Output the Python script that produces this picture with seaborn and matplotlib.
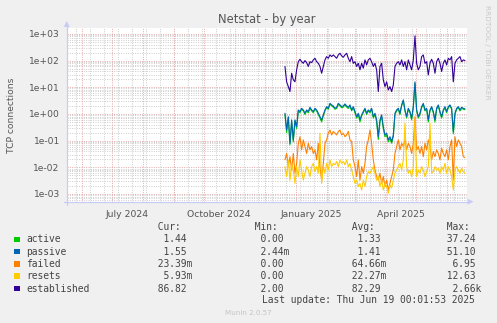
import matplotlib
matplotlib.use("Agg")
import matplotlib.pyplot as plt
import matplotlib.ticker as mticker
from matplotlib.lines import Line2D
from matplotlib.patches import Polygon, Rectangle
import seaborn as sns
import pandas as pd
import numpy as np

# ---------------- data ----------------
start = "2024-12-20 16:00"
n_points = 109
step = "40h"

series_names = ["active", "passive", "failed", "resets", "established"]
series_colors = ["#00CC00", "#0066B3", "#FF8000", "#FFCC00", "#330099"]

active = [0.95, 0.2, 0.7, 0.07, 0.5, 0.09, 0.55, 0.28, 1.3, 1.1,
          1.5, 1.3, 0.95, 1.3, 1.1, 1.6, 1.3, 1.1, 1.5, 1.3,
          0.95, 0.7, 0.5, 0.85, 1.3, 1.7, 1.5, 2.3, 2.0, 1.8,
          1.5, 1.6, 2.3, 2.0, 1.7, 1.8, 2.2, 1.8, 1.6, 2.0,
          1.3, 1.7, 1.1, 0.7, 0.95, 0.5, 0.85, 1.1, 1.5, 0.95,
          1.3, 1.1, 1.5, 0.7, 0.95, 0.5, 0.11, 0.5, 0.8, 0.28,
          0.14, 0.16, 0.09, 0.12, 0.08, 0.14, 0.95, 1.3, 1.5, 0.95,
          2.0, 3.1, 1.3, 0.7, 1.5, 1.1, 0.6, 1.7, 14, 1.3,
          0.7, 0.95, 1.7, 2.3, 1.3, 1.5, 0.5, 1.3, 1.7, 1.1,
          0.5, 1.5, 2.0, 1.1, 0.7, 1.3, 1.7, 1.1, 1.7, 2.0,
          1.5, 0.18, 0.95, 1.5, 1.7, 1.3, 1.6, 1.5, 1.44]

passive = [1.06, 0.25, 0.79, 0.079, 0.6, 0.106, 0.6, 0.33, 1.41, 1.23,
           1.63, 1.41, 1.06, 1.41, 1.23, 1.78, 1.41, 1.23, 1.63, 1.41,
           1.06, 0.79, 0.6, 0.92, 1.41, 1.88, 1.63, 2.5, 2.18, 2.0,
           1.63, 1.78, 2.5, 2.18, 1.88, 2.0, 2.37, 2.0, 1.78, 2.18,
           1.41, 1.88, 1.23, 0.79, 1.06, 0.6, 0.92, 1.23, 1.63, 1.06,
           1.41, 1.23, 1.63, 0.79, 1.06, 0.6, 0.14, 0.6, 0.92, 0.33,
           0.163, 0.19, 0.106, 0.14, 0.092, 0.163, 1.06, 1.41, 1.63, 1.06,
           2.18, 3.35, 1.41, 0.79, 1.63, 1.23, 0.69, 1.88, 16, 1.41,
           0.79, 1.06, 1.88, 2.5, 1.41, 1.63, 0.6, 1.41, 1.88, 1.23,
           0.6, 1.63, 2.18, 1.23, 0.79, 1.41, 1.88, 1.23, 1.88, 2.18,
           1.63, 0.22, 1.06, 1.63, 1.88, 1.41, 1.78, 1.63, 1.55]

failed = [0.019, 0.033, 0.0106, 0.025, 0.0079, 0.033, 0.006, 0.014, 0.079, 0.14,
          0.045, 0.106, 0.06, 0.033, 0.079, 0.045, 0.06, 0.033, 0.045, 0.019,
          0.079, 0.0106, 0.0033, 0.014, 0.079, 0.106, 0.19, 0.25, 0.163, 0.22,
          0.19, 0.163, 0.22, 0.25, 0.163, 0.19, 0.14, 0.163, 0.22, 0.106,
          0.092, 0.019, 0.0106, 0.0045, 0.019, 0.0033, 0.0106, 0.006, 0.014, 0.06,
          0.106, 0.25, 0.079, 0.019, 0.0079, 0.0045, 0.0033, 0.006, 0.0025, 0.0045,
          0.0019, 0.0033, 0.0014, 0.0025, 0.0045, 0.0079, 0.033, 0.06, 0.106, 0.045,
          0.079, 0.06, 0.106, 0.045, 0.079, 0.06, 0.033, 0.079, 0.79, 0.045,
          0.06, 0.033, 0.06, 0.025, 0.079, 0.045, 0.106, 0.06, 0.019, 0.039,
          0.025, 0.045, 0.033, 0.019, 0.052, 0.033, 0.025, 0.045, 0.019, 0.06,
          0.106, 0.0033, 0.14, 0.06, 0.106, 0.079, 0.06, 0.025, 0.023]

resets = [0.0106, 0.0045, 0.019, 0.0033, 0.014, 0.0079, 0.0025, 0.0106, 0.0045, 0.019,
          0.0079, 0.0033, 0.006, 0.0106, 0.0079, 0.0045, 0.0106, 0.014, 0.0069, 0.0106,
          0.006, 0.19, 0.0025, 0.0106, 0.006, 0.014, 0.0079, 0.019, 0.0106, 0.014,
          0.0124, 0.0165, 0.0106, 0.019, 0.014, 0.0165, 0.0124, 0.019, 0.0106, 0.014,
          0.0079, 0.0045, 0.0025, 0.0033, 0.0019, 0.0025, 0.0014, 0.0033, 0.0019, 0.0045,
          0.0069, 0.006, 0.0079, 0.0106, 0.006, 0.0033, 0.0045, 0.0019, 0.0033, 0.0014,
          0.0025, 0.0019, 0.00106, 0.0022, 0.00165, 0.0033, 0.006, 0.0079, 0.0106, 0.014,
          0.0079, 0.019, 0.45, 0.0106, 0.006, 0.0079, 0.0045, 0.0106, 0.6, 0.0045,
          0.0079, 0.006, 0.0106, 0.0079, 0.0045, 0.0069, 0.0106, 0.45, 0.006, 0.0069,
          0.0106, 0.0079, 0.0092, 0.006, 0.0106, 0.0079, 0.014, 0.006, 0.0106, 0.0079,
          0.0045, 0.0014, 0.0079, 0.0106, 0.0079, 0.006, 0.0092, 0.0069, 0.0059]

established = [60, 16, 10.6, 6.9, 33.5, 19, 16, 45, 91, 112,
               91, 79, 100, 84, 60, 91, 84, 106, 122, 91,
               79, 60, 33.5, 60, 106, 141, 122, 163, 141, 163,
               141, 122, 163, 188, 150, 133, 163, 188, 122, 91,
               141, 79, 91, 60, 79, 45, 79, 52, 106, 69,
               106, 122, 91, 60, 79, 45, 6.9, 60, 79, 19,
               10.6, 16, 7.9, 10.6, 6.9, 12.2, 60, 79, 91, 69,
               106, 60, 91, 45, 106, 69, 45, 106, 841, 79,
               45, 60, 141, 163, 79, 91, 29, 79, 112, 79,
               33.5, 91, 122, 79, 39, 79, 106, 69, 122, 106,
               141, 16, 79, 106, 122, 141, 91, 106, 100]

# legend statistics
cur_vals = [1.44, 1.55, 23.39e-3, 5.93e-3, 86.82]
min_vals = [0.0, 2.44e-3, 0.0, 0.0, 2.00]
avg_vals = [1.33, 1.41, 64.66e-3, 22.27e-3, 82.29]
max_vals = [37.24, 51.10, 6.95, 12.63, 2660.0]

title = "Netstat - by year"
ylabel = "TCP connections"
x_label_dates = ["2024-07-16", "2024-10-16", "2025-01-16", "2025-04-16"]
x_label_texts = ["July 2024", "October 2024", "January 2025", "April 2025"]
last_update = "Last update: Thu Jun 19 00:01:53 2025"
footer = "Munin 2.0.57"
side_text = "RRDTOOL / TOBI OETIKER"

# ---------------- figure ----------------
W, H = 497, 323
sns.set_style("white")
plt.rcParams["font.family"] = ["DejaVu Sans"]

fig = plt.figure(figsize=(W / 100, H / 100), dpi=100, facecolor="#F0F0F0")


def fx(x):
    return x / W


def fy(y):
    return 1 - y / H


L, R, T, B = 66.7, 467.3, 28.3, 201.7
ax = fig.add_axes([fx(L), fy(B), fx(R - L), (B - T) / H])
ax.set_facecolor("white")

dates = pd.date_range(start, periods=n_points, freq=step)
df = pd.DataFrame({"date": dates, "active": active, "passive": passive,
                   "failed": failed, "resets": resets, "established": established})
long = df.melt(id_vars="date", var_name="series", value_name="value")

ax.set_yscale("log")
sns.lineplot(data=long, x="date", y="value", hue="series", hue_order=series_names,
             palette=dict(zip(series_names, series_colors)), linewidth=0.8,
             legend=False, ax=ax, estimator=None, zorder=3)

ax.set_xlim(pd.Timestamp("2024-05-16 09:36"), pd.Timestamp("2025-06-21 00:00"))
ax.set_ylim(10 ** -3.29, 10 ** 3.21)

# grid
red = "#E8A8A8"
gray = "#CCCCCC"
dots = (0, (1, 1.4))
for d in pd.date_range("2024-05-26", "2025-06-21", freq="14D"):
    ax.axvline(d, color=gray, lw=0.7, ls=dots, zorder=1)
for d in pd.date_range("2024-06-01", "2025-06-21", freq="MS"):
    ax.axvline(d, color=red, lw=0.7, ls=dots, zorder=1.5)

ax.yaxis.set_major_locator(mticker.LogLocator(base=10, numticks=20))
ax.yaxis.set_minor_locator(mticker.LogLocator(base=10, subs=np.arange(2, 10), numticks=20))
ax.yaxis.set_major_formatter(mticker.FuncFormatter(lambda v, p: f"{v:.0e}"))
ax.yaxis.set_minor_formatter(mticker.NullFormatter())
ax.grid(which="minor", axis="y", color=gray, lw=0.7, ls=dots, zorder=1)
ax.grid(which="major", axis="y", color=red, lw=0.7, ls=dots, zorder=1.5)
ax.grid(which="both", axis="x", visible=False)
ax.set_axisbelow(True)

ax.set_xticks(pd.to_datetime(x_label_dates))
ax.set_xticklabels(x_label_texts)
ax.tick_params(axis="x", length=0, labelsize=6.7, labelcolor="#555555", pad=6)
ax.tick_params(axis="y", which="major", length=2, color="#cccccc", labelsize=6.6,
               labelcolor="#555555", pad=3)
ax.tick_params(axis="y", which="minor", length=0)
ax.set_xlabel("")
ax.set_ylabel("")

for s in ["top", "right", "left", "bottom"]:
    ax.spines[s].set_visible(False)

# axes with arrows (rrdtool style)
axis_c = "#C8CCF4"
fig.add_artist(Line2D([fx(L), fx(L)], [fy(B + 3), fy(24)], transform=fig.transFigure,
                      color=axis_c, lw=0.9))
fig.add_artist(Line2D([fx(L - 3), fx(469)], [fy(B), fy(B)], transform=fig.transFigure,
                      color=axis_c, lw=0.9))
fig.add_artist(Polygon([[fx(L - 3), fy(27)], [fx(L + 3), fy(27)], [fx(L), fy(21)]],
                       closed=True, transform=fig.transFigure, color=axis_c, lw=0))
fig.add_artist(Polygon([[fx(467.5), fy(B - 3)], [fx(467.5), fy(B + 3)], [fx(473.5), fy(B)]],
                       closed=True, transform=fig.transFigure, color=axis_c, lw=0))

# titles
fig.text(fx(266.5), fy(19), title, ha="center", va="center", fontsize=8.3, color="#555555")
fig.text(fx(11.7), fy(115), ylabel, ha="center", va="center", rotation=90,
         fontsize=6.6, color="#555555")
fig.text(fx(487), fy(5), side_text, ha="center", va="top", rotation=270,
         fontsize=5.3, color="#C8C8C8")

# legend block
mono = "DejaVu Sans Mono"
fs = 6.9
tc = "#444444"


def fmt(v):
    if v == 0:
        return f"{v:6.2f} "
    if v >= 1000:
        return f"{v / 1000:6.2f}k"
    if v < 1:
        return f"{v * 1000:6.2f}m"
    return f"{v:6.2f} "


col_x = [152, 249, 345.7, 440.7]
headers = [" Cur:", " Min:", " Avg:", " Max:"]
for cx, h in zip(col_x, headers):
    fig.text(fx(cx), fy(227.5), h, ha="left", va="center", family=mono, fontsize=fs, color=tc)

sq = 5.5
for i, (name, col) in enumerate(zip(series_names, series_colors)):
    yy = 239.3 + 12.3 * i
    fig.add_artist(Rectangle((fx(14), fy(yy + sq / 2)), sq / W, sq / H,
                             transform=fig.transFigure, facecolor=col, edgecolor="none"))
    fig.text(fx(26), fy(yy), name, ha="left", va="center",
             family=mono, fontsize=fs, color=tc)
    for cx, vals in zip(col_x, [cur_vals, min_vals, avg_vals, max_vals]):
        fig.text(fx(cx), fy(yy), fmt(vals[i]), ha="left", va="center", family=mono,
                 fontsize=fs, color=tc)

fig.text(fx(261.5), fy(300.3), last_update, ha="left", va="center", family=mono,
         fontsize=fs, color=tc)
fig.text(fx(248), fy(312.8), footer, ha="center", va="center", fontsize=5.1, color="#C4C4C4")

fig.savefig("out.png", dpi=100, facecolor=fig.get_facecolor())
